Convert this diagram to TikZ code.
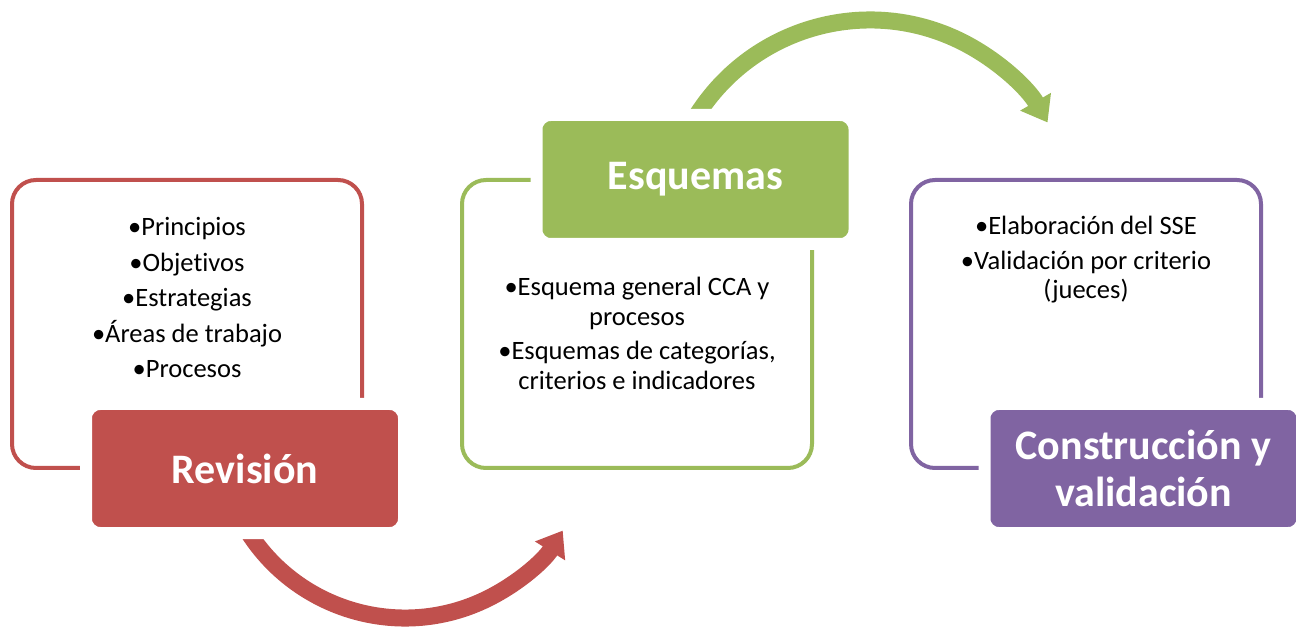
\documentclass[tikz,border=0pt]{standalone}
\usepackage{fontspec}
\setmainfont{Carlito}[Ligatures=CommonOff]
\usetikzlibrary{arrows.meta}
\definecolor{rojo}{HTML}{C0504D}
\definecolor{verde}{HTML}{9BBB59}
\definecolor{morado}{HTML}{8064A2}

\begin{document}
\begin{tikzpicture}[x=1pt, y=1pt,
    B/.style = {draw=#1, line width=4pt, rounded corners=24pt,% outline of each step
                minimum width=350pt, minimum height=288pt},
    T/.style = {fill=#1, draw=white, line width=12pt, rounded corners=14pt,% title of each step
                minimum width=318pt, minimum height=129pt, align=center,
                text=white, font=\fontsize{42}{47}\selectfont\bfseries},
    L/.style = {align=center, anchor=base, inner sep=0pt,% list inside the outline
                font=\fontsize{26.5}{#1}\selectfont},
    A/.style = {draw=#1, line width=17pt, -{Triangle[length=24pt,width=34pt]}},
                        ]
\useasboundingbox (0,0) rectangle (1296,627);
% outlines
\node[B=rojo]   (rev-box) at (187,303)  {};
\node[B=verde]  (esq-box) at (637,303)  {};
\node[B=morado] (con-box) at (1086,303) {};
% centres of the two arcs
\coordinate (rev-arc) at (405,195);
\coordinate (esq-arc) at (870,402);
\draw[A=rojo]  ([shift={(-155:186)}]rev-arc) arc[start angle=-155, end angle=-32, radius=186];
\draw[A=verde] ([shift={(153:205)}]esq-arc) arc[start angle=153, end angle=30, radius=205];
% titles
\node[T=rojo]   (rev) at (245,158.5)   {Revisión};
\node[T=verde]  (esq) at (695.5,447.5) {Esquemas};
\node[T=morado] (con) at (1143.5,158.5) {Construcción y\\validación};
% lists (base = last line)
\node[L=35.5] (rev-list) at (187,249)
    {•Principios\\•Objetivos\\•Estrategias\\•Áreas de trabajo\\•Procesos};
\node[L=29.5] (esq-list) at (637,237.5)
    {•Esquema general CCA y\\procesos\\[5pt]•Esquemas de categorías,\\criterios e indicadores};
\node[L=29] (con-list) at (1086,328)
    {•Elaboración del SSE\\[6pt]•Validación por criterio\\(jueces)};
\end{tikzpicture}
\end{document}
